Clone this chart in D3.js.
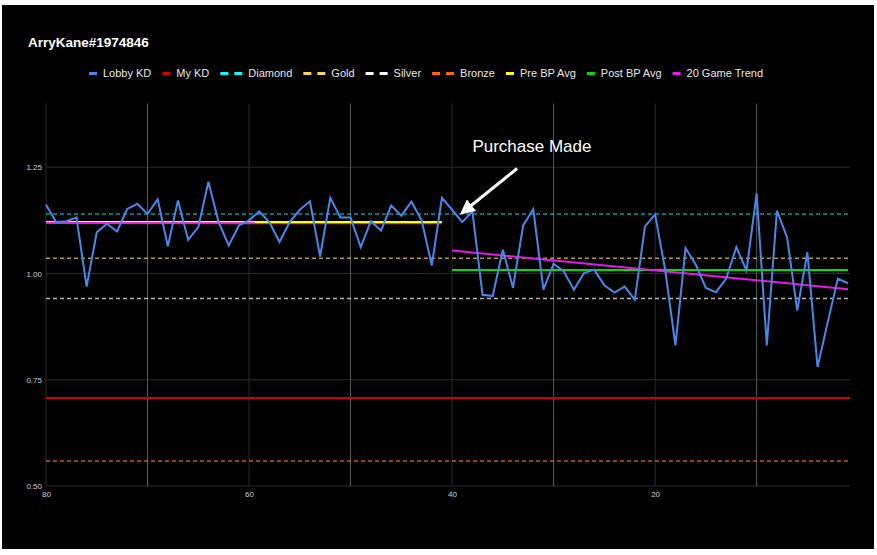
<!DOCTYPE html>
<html>
<head>
<meta charset="utf-8">
<script src="https://cdn.jsdelivr.net/npm/d3@7"></script>
<style>
  body{margin:0;background:#fff;}
  svg{display:block;font-family:"Liberation Sans",Arial,sans-serif;}
</style>
</head>
<body>
<svg id="chart" width="877" height="555"></svg>
<script>
// games counted down from 80 to 1
var games = d3.range(80, 0, -1);
var lobbyKD = [1.162,1.121,1.123,1.132,0.969,1.097,1.117,1.099,1.152,1.164,
  1.140,1.175,1.064,1.172,1.079,1.109,1.216,1.121,1.066,1.113,
  1.125,1.146,1.121,1.074,1.121,1.150,1.170,1.040,1.178,1.132,
  1.132,1.062,1.123,1.101,1.160,1.136,1.169,1.125,1.019,1.178,
  1.150,1.121,1.146,0.950,0.947,1.056,0.966,1.113,1.151,0.962,
  1.023,1.005,0.962,1.001,1.009,0.972,0.955,0.969,0.938,1.111,
  1.139,1.007,0.831,1.060,1.021,0.966,0.956,0.988,1.062,1.007,
  1.188,0.831,1.148,1.085,0.913,1.050,0.780,0.885,0.988,0.977];

var myKD = 0.707;
var rankNames = ['Diamond','Gold','Silver','Bronze'];
var rankValues = [1.140, 1.036, 0.941, 0.559];

var preBP = {from:80, to:41, value:1.121};
var postBP = {from:40, to:1, value:1.008};
var trendPre = [[80,1.119],[41,1.118]];
var trendPost = [[40,1.054],[1,0.963]];

var yTicks = [0.50, 0.75, 1.00, 1.25];
var xTicks = [80, 60, 40, 20];
var xGrid = [70, 60, 50, 40, 30, 20, 10];

var legendNames = ['Lobby KD','My KD','Diamond','Gold','Silver','Bronze','Pre BP Avg','Post BP Avg','20 Game Trend'];

var svg = d3.select('#chart');
svg.append('rect').attr('x',2).attr('y',5).attr('width',872).attr('height',544).attr('fill','#000');

var x = d3.scaleLinear().domain([80,1]).range([46,848]);
var y = d3.scaleLinear().domain([0.5,1.4]).range([486,103.5]);

var colors = {
  'Lobby KD':'#4a86e8','My KD':'#d00000','Diamond':'#00ffff','Gold':'#ffd066',
  'Silver':'#ffffff','Bronze':'#ff6a00','Pre BP Avg':'#ffff00','Post BP Avg':'#00e000','20 Game Trend':'#e619e6'
};
var rankLine = {'Diamond':'rgba(0,255,255,0.6)','Gold':'rgba(255,208,102,0.7)','Silver':'rgba(255,255,255,0.7)','Bronze':'rgba(255,106,0,0.8)'};

// grid
var g = svg.append('g');
g.selectAll('.hgrid').data(yTicks).enter().append('line')
  .attr('x1',x(80)).attr('x2',850).attr('y1',function(d){return y(d)}).attr('y2',function(d){return y(d)})
  .attr('stroke','#2b2b2b').attr('stroke-width',1);
g.selectAll('.vgrid').data(xGrid).enter().append('line')
  .attr('x1',function(d){return x(d)}).attr('x2',function(d){return x(d)})
  .attr('y1',y(1.4)).attr('y2',y(0.5))
  .attr('stroke',function(d){return d % 20 === 0 ? '#2b2b2b' : '#5a5a5a'}).attr('stroke-width',1);
g.append('line').attr('x1',x(80)).attr('x2',x(80)).attr('y1',y(1.4)).attr('y2',y(0.5)).attr('stroke','#2b2b2b');

// axes
var yAxis = d3.axisLeft(y).tickValues(yTicks).tickSize(0).tickPadding(4).tickFormat(d3.format('.2f'));
var ya = svg.append('g').attr('transform','translate(' + x(80) + ',0)').call(yAxis);
var xAxis = d3.axisBottom(x).tickValues(xTicks).tickSize(0).tickPadding(5).tickFormat(d3.format('d'));
var xa = svg.append('g').attr('transform','translate(0,' + y(0.5) + ')').call(xAxis);
[ya,xa].forEach(function(a){
  a.select('.domain').remove();
  a.selectAll('text').attr('fill','#cfcfcf').attr('font-size',8).attr('font-family','Liberation Sans, Arial, sans-serif');
});

// rank reference lines
svg.selectAll('.rank').data(rankNames).enter().append('line')
  .attr('x1',x(80)).attr('x2',850)
  .attr('y1',function(d,i){return y(rankValues[i])}).attr('y2',function(d,i){return y(rankValues[i])})
  .attr('stroke',function(d){return rankLine[d]}).attr('stroke-width',1.5).attr('stroke-dasharray','4,3');

svg.append('line').attr('x1',x(80)).attr('x2',850).attr('y1',y(myKD)).attr('y2',y(myKD))
  .attr('stroke',colors['My KD']).attr('stroke-width',2);

// averages
svg.append('line').attr('x1',x(preBP.from)).attr('x2',x(preBP.to)).attr('y1',y(preBP.value)).attr('y2',y(preBP.value))
  .attr('stroke',colors['Pre BP Avg']).attr('stroke-width',2);
svg.append('line').attr('x1',x(postBP.from)).attr('x2',x(postBP.to)).attr('y1',y(postBP.value)).attr('y2',y(postBP.value))
  .attr('stroke',colors['Post BP Avg']).attr('stroke-width',2);

var line = d3.line().x(function(d){return x(d[0])}).y(function(d){return y(d[1])});
[trendPre,trendPost].forEach(function(t){
  svg.append('path').attr('d',line(t)).attr('fill','none').attr('stroke',colors['20 Game Trend']).attr('stroke-width',2);
});

// lobby kd
svg.append('path').attr('d',line(games.map(function(gm,i){return [gm,lobbyKD[i]]})))
  .attr('fill','none').attr('stroke',colors['Lobby KD']).attr('stroke-width',2).attr('stroke-linejoin','miter');

// annotation
var arrowFrom = [33.6,1.247], arrowTo = [39.0,1.143];
svg.append('defs').append('marker').attr('id','head').attr('viewBox','0 0 10 10')
  .attr('refX',8).attr('refY',5).attr('markerWidth',5).attr('markerHeight',5).attr('orient','auto')
  .append('path').attr('d','M0,0 L10,5 L0,10 z').attr('fill','#fff');
svg.append('line').attr('x1',x(arrowFrom[0])).attr('y1',y(arrowFrom[1])).attr('x2',x(arrowTo[0])).attr('y2',y(arrowTo[1]))
  .attr('stroke','#fff').attr('stroke-width',3).attr('marker-end','url(#head)');
svg.append('text').attr('x',x(38.0)).attr('y',y(1.287)).attr('fill','#fff').attr('font-size',17).text('Purchase Made');

// title
svg.append('text').attr('x',28).attr('y',47).attr('fill','#fff').attr('font-weight','bold').attr('font-size',13.5).text('ArryKane#1974846');

// legend
var lx = 89;
legendNames.forEach(function(name){
  var item = svg.append('g');
  var dashed = rankNames.indexOf(name) !== -1;
  if(dashed){
    item.append('rect').attr('x',lx).attr('y',72).attr('width',8).attr('height',3).attr('fill',colors[name]);
    item.append('rect').attr('x',lx+14).attr('y',72).attr('width',8).attr('height',3).attr('fill',colors[name]);
    lx += 22;
  } else {
    item.append('rect').attr('x',lx).attr('y',72).attr('width',8).attr('height',3).attr('fill',colors[name]);
    lx += 8;
  }
  var t = item.append('text').attr('x',lx+6).attr('y',77).attr('fill','#e6e6e6').attr('font-size',11).text(name);
  lx += 6 + t.node().getComputedTextLength() + 11;
});
</script>
</body>
</html>
